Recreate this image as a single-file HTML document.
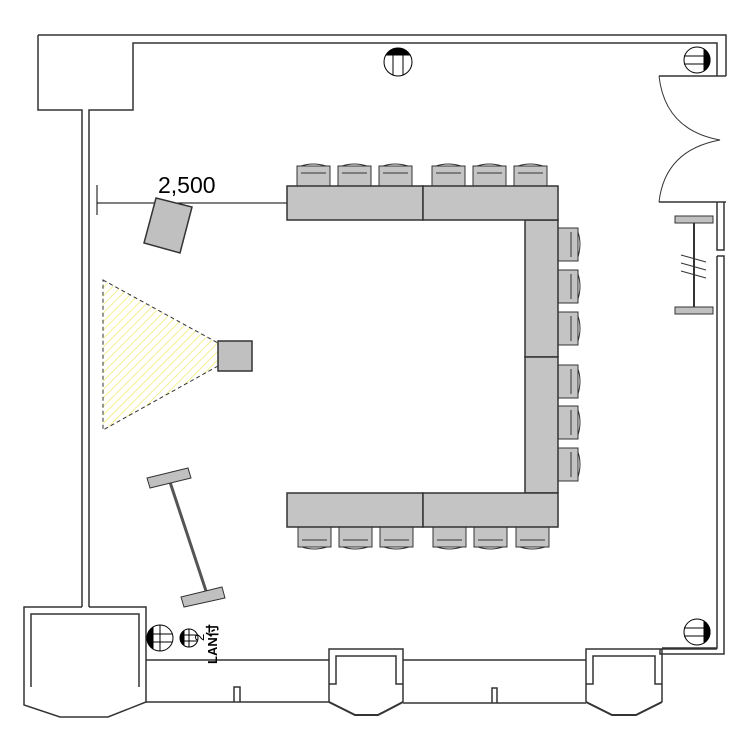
<!DOCTYPE html>
<html><head><meta charset="utf-8"><style>body{margin:0;background:#fff}svg{display:block}</style></head><body>
<svg width="750" height="750" viewBox="0 0 750 750" xmlns="http://www.w3.org/2000/svg">
<defs>
<pattern id="h" patternUnits="userSpaceOnUse" width="6" height="6" patternTransform="rotate(45)">
<line x1="0" y1="0" x2="0" y2="6" stroke="#f0ec70" stroke-width="1.5"/>
</pattern>
<g id="ct"><rect x="0" y="3" width="33" height="20" fill="#c4c4c4" stroke="#333" stroke-width="1"/><path d="M4 3 Q16 -1 29 3 M4 10 H29" fill="none" stroke="#333"/></g>
<g id="cr"><rect x="0" y="0" width="20" height="33" fill="#c4c4c4" stroke="#333" stroke-width="1"/><path d="M20 4 Q24 16 20 29 M13 4 V29" fill="none" stroke="#333"/></g>
</defs>
<g fill="none" stroke="#333" stroke-width="1.5">
<path d="M38 35 H726 V76"/>
<path d="M38 35 V110 H82 V607"/>
<path d="M89 607 V110 H133 V43 H717 V76"/>
<path d="M659 76 H726"/>
<path d="M659 202 H726"/>
<path d="M659 76 Q665 130 720 140 Q665 150 659 202" stroke-width="1"/>
<path d="M717 202 V250 H724 V202"/>
<path d="M717 256 H724 V654 H660 V649"/>
<path d="M717 256 V648 H662"/>
<path d="M82 607 H24 V705 L60 717 H108 L146 702 V607 H89"/>
<path d="M31 687 V614 H139 V687"/>
<path d="M146 660 H329 M146 702 H329"/>
<path d="M234 702 V687 H240 V702"/>
<path d="M329 702 V649 H403 V702"/>
<path d="M329 684 H336 V656 H396 V684 H403"/>
<path d="M329 702 L355 715 H378 L403 702" stroke-width="2"/>
<path d="M403 660 H586 M403 703 H586"/>
<path d="M492 703 V688 H497 V703"/>
<path d="M586 702 V649 H662 V702"/>
<path d="M586 684 H593 V656 H655 V684 H662"/>
<path d="M586 702 L612 715 H636 L662 702" stroke-width="2"/>
<path d="M662 649 H717"/>
</g>
<g stroke="#000" stroke-width="1">
<circle cx="398" cy="62" r="14" fill="#fff"/><path d="M386 55 A14 14 0 0 1 410 55 Z" fill="#000"/><path d="M393 55 V75 M403 55 V75"/>
<circle cx="697" cy="60" r="13" fill="#fff"/><path d="M704 49 A13 13 0 0 1 704 71 Z" fill="#000"/><path d="M684 56 H706 M684 64 H706"/>
<circle cx="697" cy="632" r="13" fill="#fff"/><path d="M704 621 A13 13 0 0 1 704 643 Z" fill="#000"/><path d="M684 628 H706 M684 636 H706"/>
<circle cx="160" cy="638" r="13" fill="#fff"/><path d="M153 627 A13 13 0 0 0 153 649 Z" fill="#000"/><path d="M149 634 H172 M149 642 H172 M160 625 V651"/>
<circle cx="189" cy="638" r="9" fill="#fff"/><path d="M184 631 A9 9 0 0 0 184 645 Z" fill="#000"/><path d="M180 635 H198 M180 641 H198 M189 629 V647"/>
</g>
<text x="0" y="0" transform="translate(217 664) rotate(-90)" font-family="Liberation Sans, Noto Sans CJK JP, sans-serif" font-size="13" font-weight="bold">LAN付</text>
<text x="0" y="0" transform="translate(204 641) rotate(-90)" font-family="Liberation Sans, sans-serif" font-size="13">2</text>
<path d="M97 185 V215 M97 203 H287" stroke="#000" stroke-width="1"/>
<text x="158" y="193" font-family="Liberation Sans, sans-serif" font-size="23">2,500</text>
<polygon points="156,198 192,207 180,253 144,243" fill="#c0c0c0" stroke="#333" stroke-width="1.5"/>
<polygon points="103,280 218,343 218,366 103,430" fill="url(#h)" stroke="#333" stroke-width="1" stroke-dasharray="4,3"/>
<rect x="218" y="341" width="34" height="30" fill="#c0c0c0" stroke="#333" stroke-width="1.5"/>
<g stroke="#333" stroke-width="1">
<path d="M168 476 L209 600" stroke-width="3" stroke="#555"/>
<polygon points="147,478 188,468 191,478 150,488" fill="#c0c0c0"/>
<polygon points="181,597 222,587 225,598 184,607" fill="#c0c0c0"/>
</g>
<g stroke="#333" stroke-width="1">
<path d="M694 220 V312" stroke-width="2"/>
<rect x="675" y="216" width="38" height="7" fill="#c0c0c0"/>
<rect x="675" y="307" width="38" height="7" fill="#c0c0c0"/>
<path d="M681 255 L706 262 M681 263 L706 270 M681 271 L706 278"/>
</g>
<use href="#ct" x="297" y="163"/><use href="#ct" x="338" y="163"/><use href="#ct" x="379" y="163"/>
<use href="#ct" x="432" y="163"/><use href="#ct" x="473" y="163"/><use href="#ct" x="514" y="163"/>
<g transform="translate(0 1077) scale(1 -1)">
<use href="#ct" x="298" y="527"/><use href="#ct" x="339" y="527"/><use href="#ct" x="380" y="527"/>
<use href="#ct" x="433" y="527"/><use href="#ct" x="474" y="527"/><use href="#ct" x="516" y="527"/>
</g>
<use href="#cr" x="558" y="228"/><use href="#cr" x="558" y="270"/><use href="#cr" x="558" y="312"/>
<use href="#cr" x="558" y="365"/><use href="#cr" x="558" y="406"/><use href="#cr" x="558" y="448"/>
<g fill="#c4c4c4" stroke="#333" stroke-width="1.5">
<rect x="525" y="220" width="33" height="137"/><rect x="525" y="357" width="33" height="136"/>
<rect x="287" y="186" width="136" height="34"/><rect x="423" y="186" width="135" height="34"/>
<rect x="287" y="493" width="136" height="34"/><rect x="423" y="493" width="135" height="34"/>
</g>
</svg>
</body></html>
